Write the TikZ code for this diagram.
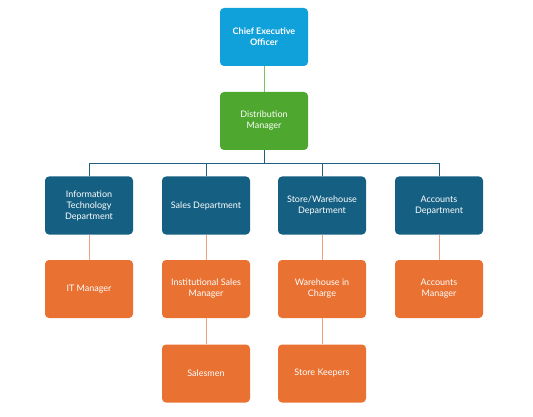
\documentclass[tikz,border=0pt]{standalone}
\usepackage{fontspec}
\setmainfont{Lato}
\definecolor{ceoblue}{HTML}{10A0DA}
\definecolor{dmgreen}{HTML}{4EA72E}
\definecolor{deptblue}{HTML}{156082}
\definecolor{orng}{HTML}{E97132}
\definecolor{buscol}{HTML}{1F5F7F}
\definecolor{orline}{HTML}{EFA07A}
\definecolor{grline}{HTML}{7CC160}
\tikzset{
  box/.style={rounded corners=4pt, minimum width=88pt, minimum height=58pt, align=center, text=white, font=\fontsize{9}{11}\selectfont, inner sep=2pt},
  ceobox/.style={box, fill=ceoblue, font=\fontsize{9}{11}\selectfont\bfseries},
  dmbox/.style={box, fill=dmgreen},
  deptbox/.style={box, fill=deptblue},
  orbox/.style={box, fill=orng},
  conn/.style={line width=0.9pt}
}
\begin{document}
\begin{tikzpicture}[x=1pt,y=-1pt]
\useasboundingbox (0,0) rectangle (533,417);
\node[ceobox] (ceo) at (264,37) {Chief Executive\\Officer};
\node[dmbox] (dm) at (264,121) {Distribution\\Manager};
\node[deptbox] (it) at (89,205.5) {Information\\Technology\\Department};
\node[deptbox] (sales) at (206,205.5) {Sales Department};
\node[deptbox] (store) at (322,205.5) {Store/Warehouse\\Department};
\node[deptbox] (acc) at (439,205.5) {Accounts\\Department};
\node[orbox] (itm) at (89,289) {IT Manager};
\node[orbox] (ism) at (206,289) {Institutional Sales\\Manager};
\node[orbox] (wic) at (322,289) {Warehouse in\\Charge};
\node[orbox] (accm) at (439,289) {Accounts\\Manager};
\node[orbox] (sm) at (206,373.5) {Salesmen};
\node[orbox] (sk) at (322,373.5) {Store Keepers};
\coordinate (bus) at (264,163);
\draw[conn, grline] (ceo) -- (dm);
\draw[conn, buscol] (dm.south) -- (bus);
\draw[conn, buscol] (it.north) -- (it.north |- bus) -- (acc.north |- bus) -- (acc.north);
\draw[conn, buscol] (sales.north) -- (sales.north |- bus);
\draw[conn, buscol] (store.north) -- (store.north |- bus);
\draw[conn, orline] (it) -- (itm);
\draw[conn, orline] (sales) -- (ism);
\draw[conn, orline] (store) -- (wic);
\draw[conn, orline] (acc) -- (accm);
\draw[conn, orline] (ism) -- (sm);
\draw[conn, orline] (wic) -- (sk);
\end{tikzpicture}
\end{document}
